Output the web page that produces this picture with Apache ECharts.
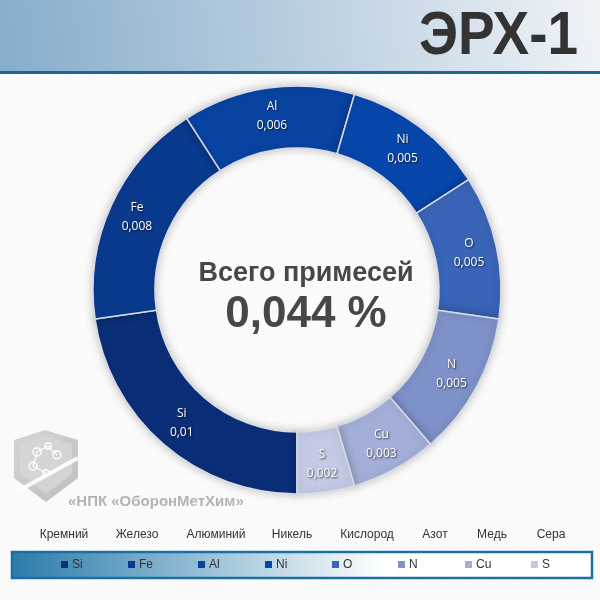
<!DOCTYPE html>
<html><head><meta charset="utf-8">
<script src="https://cdn.jsdelivr.net/npm/echarts@6/dist/echarts.min.js"></script>
<style>html,body{margin:0;padding:0;background:#fff}#c{width:600px;height:600px}</style>
</head><body><div id="c"></div>
<script>
var title = 'ЭРХ-1';
var centerLine1 = 'Всего примесей';
var centerLine2 = '0,044 %';
var symbols = ['Si', 'Fe', 'Al', 'Ni', 'O', 'N', 'Cu', 'S'];
var names = ['Кремний', 'Железо', 'Алюминий', 'Никель', 'Кислород', 'Азот', 'Медь', 'Сера'];
var values = [0.01, 0.008, 0.006, 0.005, 0.005, 0.005, 0.003, 0.002];
var watermark = '«НПК «ОборонМетХим»';

var colors = ['#0b2e78', '#0a3a8e', '#0843a2', '#0747ab', '#3a64b8', '#7e91c8', '#a3afd8', '#c4cae5'];

function stripes() {
  var c = document.createElement('canvas');
  c.width = 6; c.height = 6;
  var g = c.getContext('2d');
  g.fillStyle = '#ffffff'; g.fillRect(0, 0, 6, 6);
  g.fillStyle = '#f1f1f1';
  for (var i = 0; i < 6; i++) { g.fillRect(i, 5 - i, 1, 1); g.fillRect((i + 3) % 6, 5 - i, 1, 1); }
  return c;
}

var chart = echarts.init(document.getElementById('c'), null, {renderer: 'canvas'});
var nameX = [64, 137, 216, 292, 367, 435, 492, 551];
var legendX = [61, 128, 198, 265, 332, 398, 465, 531];
var nameTexts = names.map(function (n, i) {
  return {type: 'text', x: nameX[i], y: 535, style: {text: n, fill: '#333', font: '12px "Liberation Sans", Arial', textAlign: 'center', textVerticalAlign: 'middle'}};
});
var legendItems = [];
symbols.forEach(function (s, i) {
  legendItems.push({type: 'rect', shape: {x: legendX[i], y: 561, width: 7, height: 7}, style: {fill: colors[i]}});
  legendItems.push({type: 'text', x: legendX[i] + 11, y: 565, style: {text: s, fill: '#333', font: '12px "Liberation Sans", Arial', textAlign: 'left', textVerticalAlign: 'middle'}});
});

var option = {
  backgroundColor: {image: stripes(), repeat: 'repeat'},
  color: colors,
  animation: false,
  graphic: [
    {type: 'rect', shape: {x: 0, y: 0, width: 600, height: 71},
      style: {fill: {type: 'linear', x: 0, y: 1, x2: 1, y2: 0, colorStops: [{offset: 0, color: '#86adcc'}, {offset: 0.55, color: '#bfd2e2'}, {offset: 1, color: '#f0f4f8'}]}}},
    {type: 'rect', shape: {x: 0, y: 71, width: 600, height: 3}, style: {fill: '#1c6898'}},
    {type: 'text', x: 578, y: 37, scaleX: 0.9, style: {text: title, fill: '#333333', font: 'bold 61px "Liberation Sans", Arial', textAlign: 'right', textVerticalAlign: 'middle'}},
    {type: 'rect', shape: {x: 12, y: 552, width: 580, height: 26},
      style: {fill: {type: 'linear', x: 0, y: 0, x2: 1, y2: 0, colorStops: [{offset: 0, color: '#2a7bab'}, {offset: 0.64, color: '#ffffff'}, {offset: 1, color: '#ffffff'}]}, stroke: '#1b6fa3', lineWidth: 2.5}},
    // watermark shield
    {type: 'polygon', shape: {points: [[14, 440], [45, 430], [78, 440], [78, 478], [46, 502], [14, 478]]},
      style: {fill: {type: 'linear', x: 0, y: 0, x2: 1, y2: 1, colorStops: [{offset: 0, color: 'rgba(200,200,200,0.75)'}, {offset: 1, color: 'rgba(170,170,170,0.75)'}]}}},
    {type: 'polygon', shape: {points: [[20, 444], [45, 436], [72, 444], [72, 474], [46, 494], [20, 474]]},
      style: {fill: 'rgba(215,215,215,0.8)'}},
    {type: 'line', shape: {x1: 16, y1: 492, x2: 78, y2: 458}, style: {stroke: 'rgba(255,255,255,0.9)', lineWidth: 4}},
    {type: 'circle', shape: {cx: 37, cy: 452, r: 4}, style: {fill: 'none', stroke: '#fff', lineWidth: 1.5}},
    {type: 'circle', shape: {cx: 48, cy: 446, r: 3}, style: {fill: 'none', stroke: '#fff', lineWidth: 1.5}},
    {type: 'circle', shape: {cx: 57, cy: 455, r: 4}, style: {fill: 'none', stroke: '#fff', lineWidth: 1.5}},
    {type: 'circle', shape: {cx: 33, cy: 466, r: 4}, style: {fill: 'none', stroke: '#fff', lineWidth: 1.5}},
    {type: 'circle', shape: {cx: 46, cy: 473, r: 3}, style: {fill: 'none', stroke: '#fff', lineWidth: 1.5}},
    {type: 'polyline', shape: {points: [[37, 452], [48, 446], [57, 455]]}, style: {stroke: '#fff', lineWidth: 1.2, fill: null}},
    {type: 'polyline', shape: {points: [[37, 452], [33, 466], [46, 473]]}, style: {stroke: '#fff', lineWidth: 1.2, fill: null}},
    {type: 'text', x: 68, y: 502, style: {text: watermark, fill: '#b4b4b4', font: 'bold 15px "Liberation Sans", Arial', textAlign: 'left', textVerticalAlign: 'middle'}},
    {type: 'text', x: 306, y: 274, style: {text: centerLine1, fill: '#474747', font: 'bold 27px "Liberation Sans", Arial', textAlign: 'center', textVerticalAlign: 'middle', shadowColor: 'rgba(0,0,0,0.35)', shadowBlur: 2, shadowOffsetX: 1, shadowOffsetY: 1}},
    {type: 'text', x: 306, y: 315, style: {text: centerLine2, fill: '#474747', font: 'bold 44px "Liberation Sans", Arial', textAlign: 'center', textVerticalAlign: 'middle', shadowColor: 'rgba(0,0,0,0.35)', shadowBlur: 2, shadowOffsetX: 1, shadowOffsetY: 1}}
  ].concat(nameTexts).concat(legendItems),
  series: [{
    type: 'pie',
    center: [297, 290],
    radius: [142, 204],
    startAngle: 270,
    clockwise: true,
    avoidLabelOverlap: false,
    itemStyle: {borderColor: '#d8dce6', borderWidth: 1.5, shadowBlur: 8, shadowColor: 'rgba(0,0,0,0.22)'},
    label: {
      show: true, position: 'inside',
      color: '#ffffff', fontSize: 12, fontFamily: '"Open Sans", "Liberation Sans", Arial', lineHeight: 19,
      textShadowColor: 'rgba(0,0,0,0.75)', textShadowBlur: 2, textShadowOffsetX: 1, textShadowOffsetY: 1,
      formatter: function (p) { return p.name + '\n' + String(p.value).replace('.', ','); }
    },
    labelLine: {show: false},
    emphasis: {disabled: true},
    data: symbols.map(function (s, i) { return {name: s, value: values[i]}; })
  }]
};
chart.setOption(option);
</script></body></html>
